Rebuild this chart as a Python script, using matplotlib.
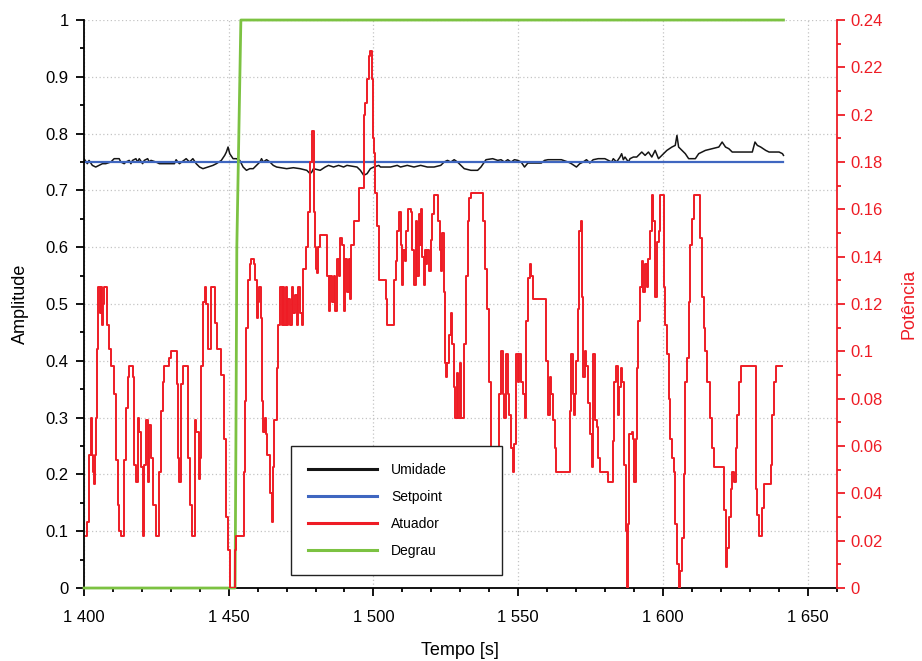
import matplotlib
matplotlib.use("Agg")
import matplotlib.pyplot as plt
from matplotlib.ticker import MultipleLocator, FuncFormatter, FormatStrFormatter

plt.rcParams['font.family'] = ['Liberation Sans', 'DejaVu Sans']

# Umidade (left axis)
umid_t = [1400.0, 1401.16, 1401.74, 1402.89, 1404.05, 1405.21, 1406.37, 1407.52, 1409.26, 1410.42,
          1412.15, 1412.73, 1413.89, 1414.47, 1415.62, 1416.2, 1416.78, 1417.94, 1418.52, 1419.1,
          1420.25, 1420.83, 1421.99, 1422.57, 1423.15, 1424.88, 1426.04, 1431.25, 1431.83, 1432.41,
          1432.99, 1435.3, 1436.46, 1437.62, 1438.77, 1439.93, 1441.09, 1442.82, 1444.56, 1445.72,
          1447.45, 1448.61, 1449.19, 1449.77, 1450.35, 1451.5, 1452.66, 1453.82, 1454.98, 1456.13,
          1457.29, 1458.45, 1459.61, 1460.18, 1460.76, 1461.34, 1461.92, 1463.08, 1464.24, 1465.39,
          1466.55, 1470.02, 1472.34, 1474.65, 1476.97, 1478.12, 1478.7, 1479.28, 1481.6, 1483.33,
          1484.49, 1486.23, 1487.96, 1489.7, 1490.86, 1494.33, 1495.49, 1496.64, 1497.8, 1498.96,
          1500.12, 1501.85, 1502.43, 1505.9, 1508.22, 1509.37, 1511.69, 1514.0, 1516.32, 1518.63,
          1520.95, 1523.26, 1524.42, 1525.58, 1526.74, 1527.89, 1529.05, 1530.21, 1531.37, 1533.68,
          1536.0, 1537.15, 1538.89, 1541.2, 1542.94, 1544.09, 1545.25, 1546.41, 1547.57, 1548.72,
          1549.88, 1551.04, 1552.2, 1553.35, 1557.98, 1559.14, 1560.3, 1564.93, 1567.24, 1568.4,
          1570.14, 1571.29, 1572.45, 1573.61, 1574.77, 1575.92, 1577.66, 1579.97, 1581.13, 1582.29,
          1582.87, 1584.02, 1585.18, 1585.76, 1586.34, 1586.92, 1588.08, 1588.65, 1589.81, 1590.97,
          1592.13, 1592.71, 1593.86, 1595.02, 1596.18, 1597.33, 1598.49, 1600.23, 1601.39, 1603.12,
          1604.28, 1604.86, 1605.44, 1606.59, 1607.75, 1608.91, 1611.22, 1612.38, 1614.7, 1617.01,
          1619.33, 1620.48, 1621.64, 1622.8, 1623.96, 1630.9, 1631.83, 1632.64, 1633.8, 1635.53,
          1636.69, 1640.16, 1641.32, 1641.67]
umid_v = [0.7559, 0.7471, 0.7529, 0.7441, 0.7412, 0.7441, 0.7471, 0.7471, 0.75, 0.7559,
          0.7559, 0.75, 0.7471, 0.75, 0.7529, 0.7471, 0.7529, 0.7559, 0.75, 0.7559,
          0.7471, 0.7529, 0.7559, 0.75, 0.7529, 0.75, 0.7471, 0.7471, 0.7541, 0.75,
          0.7471, 0.7559, 0.75, 0.7559, 0.7471, 0.7412, 0.7383, 0.7412, 0.7441, 0.7471,
          0.7529, 0.7617, 0.7676, 0.7764, 0.7647, 0.7559, 0.7559, 0.7529, 0.7412, 0.7354,
          0.7383, 0.7383, 0.7441, 0.7471, 0.75, 0.7559, 0.75, 0.7541, 0.75, 0.7441,
          0.7412, 0.7383, 0.74, 0.7383, 0.7354, 0.7295, 0.7324, 0.7383, 0.7354, 0.7412,
          0.7441, 0.7412, 0.7441, 0.7412, 0.7441, 0.7412, 0.7354, 0.7266, 0.7295, 0.7383,
          0.7412, 0.7441, 0.7412, 0.7412, 0.7441, 0.7412, 0.7441, 0.7412, 0.7441, 0.7412,
          0.7412, 0.7441, 0.75, 0.7529, 0.75, 0.7541, 0.75, 0.7441, 0.7383, 0.7354,
          0.7354, 0.7412, 0.7541, 0.7559, 0.7529, 0.7541, 0.75, 0.7541, 0.75, 0.7541,
          0.7529, 0.75, 0.7412, 0.7482, 0.7482, 0.7529, 0.7541, 0.7541, 0.75, 0.7471,
          0.7412, 0.7471, 0.75, 0.7541, 0.7482, 0.7541, 0.7559, 0.7559, 0.7529, 0.75,
          0.7559, 0.75, 0.7588, 0.7647, 0.7541, 0.7588, 0.75, 0.7559, 0.7588, 0.7588,
          0.7647, 0.7676, 0.7617, 0.7676, 0.7588, 0.7705, 0.7559, 0.7647, 0.7705, 0.7764,
          0.7793, 0.7969, 0.7764, 0.7705, 0.7647, 0.7559, 0.7559, 0.7647, 0.7705, 0.7734,
          0.7764, 0.7852, 0.7764, 0.7734, 0.7676, 0.7676, 0.7852, 0.7793, 0.7764, 0.7705,
          0.7676, 0.7676, 0.7647, 0.7617]

# Setpoint
setp_t = [1400.0, 1641.67]
setp_v = [0.75, 0.75]

# Degrau
degrau_t = [1400.0, 1452.2, 1452.5, 1452.8, 1454.2, 1641.67]
degrau_v = [0.0, 0.0, 0.27, 0.6, 1.0, 1.0]

# Atuador (right axis, potencia)
atu_t = [1400.58, 1401.16, 1401.74, 1402.31, 1402.89, 1403.24, 1403.47, 1403.82, 1404.28, 1404.63,
         1404.98, 1405.44, 1405.79, 1406.13, 1406.6, 1406.94, 1408.1, 1408.68, 1409.26, 1410.42,
         1411.0, 1411.69, 1412.15, 1412.73, 1413.89, 1414.47, 1415.05, 1415.62, 1416.78, 1417.36,
         1417.94, 1418.52, 1419.1, 1419.68, 1420.25, 1420.83, 1421.41, 1421.99, 1422.57, 1423.15,
         1423.96, 1424.88, 1426.04, 1426.62, 1427.2, 1427.78, 1429.28, 1430.09, 1432.06, 1432.64,
         1432.99, 1433.57, 1434.37, 1435.88, 1436.46, 1437.27, 1438.19, 1438.77, 1439.58, 1440.16,
         1440.51, 1441.09, 1441.67, 1442.25, 1442.82, 1443.98, 1445.14, 1445.95, 1447.45, 1448.38,
         1448.96, 1449.77, 1450.35, 1452.08, 1452.66, 1455.21, 1455.56, 1456.13, 1456.71, 1457.29,
         1457.87, 1458.68, 1459.03, 1459.61, 1460.18, 1460.53, 1460.99, 1461.57, 1461.92, 1462.5,
         1462.85, 1463.31, 1464.24, 1464.81, 1465.16, 1465.62, 1466.55, 1467.13, 1467.71, 1468.29,
         1468.63, 1469.21, 1469.68, 1470.02, 1470.6, 1471.18, 1471.76, 1472.34, 1472.92, 1473.5,
         1474.07, 1474.65, 1475.23, 1475.81, 1476.74, 1477.54, 1478.12, 1478.7, 1479.51, 1479.86,
         1480.21, 1480.67, 1481.02, 1481.6, 1483.91, 1484.49, 1485.07, 1485.65, 1486.23, 1486.81,
         1487.38, 1487.96, 1488.54, 1489.12, 1489.7, 1490.28, 1490.86, 1491.44, 1492.01, 1492.36,
         1493.17, 1494.91, 1496.64, 1497.22, 1497.8, 1498.38, 1498.96, 1499.54, 1499.88, 1500.12,
         1500.7, 1501.27, 1501.85, 1503.59, 1504.17, 1504.74, 1507.06, 1507.64, 1508.22, 1508.8,
         1509.61, 1509.95, 1510.3, 1510.76, 1511.34, 1511.92, 1512.85, 1513.43, 1514.0, 1514.58,
         1515.16, 1515.74, 1516.09, 1516.55, 1516.9, 1517.48, 1517.82, 1518.29, 1518.63, 1519.21,
         1519.79, 1520.37, 1520.95, 1522.34, 1522.92, 1523.26, 1523.84, 1524.42, 1524.77, 1525.23,
         1525.58, 1526.16, 1526.74, 1527.31, 1527.89, 1528.24, 1528.82, 1529.28, 1529.74, 1530.21,
         1531.37, 1531.94, 1532.52, 1533.1, 1533.68, 1537.73, 1538.54, 1539.24, 1540.05, 1540.63,
         1541.2, 1542.36, 1542.94, 1543.52, 1544.1, 1544.68, 1545.25, 1545.83, 1546.41, 1546.99,
         1547.57, 1548.15, 1548.73, 1549.3, 1549.88, 1550.46, 1551.04, 1551.62, 1552.2, 1552.78,
         1553.36, 1553.93, 1554.51, 1555.09, 1559.73, 1560.3, 1560.88, 1561.46, 1562.04, 1562.62,
         1563.2, 1567.83, 1568.41, 1568.99, 1569.33, 1569.56, 1570.14, 1570.72, 1571.07, 1571.65,
         1572.11, 1572.46, 1573.04, 1573.61, 1574.19, 1574.77, 1575.35, 1575.93, 1576.51, 1577.09,
         1577.67, 1578.25, 1581.14, 1582.88, 1583.22, 1583.69, 1584.38, 1584.84, 1585.42, 1586.0,
         1586.69, 1587.16, 1587.62, 1588.08, 1588.43, 1589.24, 1589.82, 1590.17, 1590.63, 1590.98,
         1591.56, 1592.13, 1592.71, 1593.29, 1593.87, 1594.45, 1595.03, 1595.61, 1596.18, 1596.76,
         1597.34, 1597.92, 1598.5, 1599.08, 1600.23, 1600.81, 1601.39, 1601.97, 1602.55, 1603.13,
         1603.71, 1604.29, 1604.86, 1605.44, 1606.02, 1606.6, 1607.18, 1607.76, 1608.34, 1608.92,
         1609.49, 1610.07, 1610.65, 1612.97, 1613.54, 1614.12, 1614.7, 1615.28, 1616.44, 1617.02,
         1617.6, 1621.07, 1621.65, 1622.23, 1622.8, 1623.38, 1623.96, 1624.54, 1625.12, 1625.7,
         1626.28, 1626.86, 1632.06, 1632.64, 1633.22, 1634.38, 1634.96, 1637.27, 1637.85, 1638.43,
         1639.01, 1641.32]
atu_p = [0.022, 0.028, 0.056, 0.072, 0.056, 0.049, 0.044, 0.056, 0.072, 0.101,
         0.127, 0.116, 0.127, 0.111, 0.120, 0.127, 0.111, 0.101, 0.094, 0.082,
         0.054, 0.035, 0.024, 0.022, 0.054, 0.076, 0.089, 0.094, 0.089, 0.052,
         0.045, 0.072, 0.066, 0.051, 0.022, 0.052, 0.071, 0.045, 0.069, 0.055,
         0.035, 0.022, 0.049, 0.075, 0.087, 0.094, 0.097, 0.100, 0.086, 0.055,
         0.045, 0.086, 0.094, 0.055, 0.035, 0.022, 0.071, 0.066, 0.046, 0.055,
         0.094, 0.121, 0.127, 0.120, 0.101, 0.127, 0.112, 0.101, 0.090, 0.063,
         0.030, 0.016, 0.0, 0.016, 0.022, 0.049, 0.079, 0.110, 0.130, 0.137,
         0.139, 0.137, 0.130, 0.114, 0.121, 0.127, 0.114, 0.079, 0.066, 0.072,
         0.065, 0.056, 0.040, 0.028, 0.051, 0.071, 0.093, 0.111, 0.127, 0.111,
         0.127, 0.111, 0.127, 0.111, 0.122, 0.111, 0.127, 0.116, 0.124, 0.111,
         0.127, 0.116, 0.111, 0.135, 0.144, 0.159, 0.180, 0.193, 0.159, 0.144,
         0.135, 0.133, 0.144, 0.149, 0.132, 0.117, 0.132, 0.121, 0.132, 0.117,
         0.139, 0.132, 0.148, 0.145, 0.117, 0.139, 0.125, 0.139, 0.122, 0.145,
         0.155, 0.169, 0.200, 0.205, 0.215, 0.225, 0.227, 0.215, 0.190, 0.184,
         0.167, 0.153, 0.130, 0.130, 0.122, 0.111, 0.130, 0.138, 0.151, 0.159,
         0.145, 0.128, 0.143, 0.138, 0.151, 0.160, 0.159, 0.143, 0.128, 0.155,
         0.132, 0.158, 0.145, 0.160, 0.140, 0.128, 0.143, 0.137, 0.143, 0.134,
         0.147, 0.158, 0.166, 0.155, 0.143, 0.134, 0.150, 0.125, 0.095, 0.089,
         0.095, 0.107, 0.116, 0.103, 0.085, 0.072, 0.091, 0.072, 0.095, 0.072,
         0.103, 0.132, 0.155, 0.165, 0.167, 0.155, 0.135, 0.118, 0.087, 0.059,
         0.049, 0.040, 0.050, 0.082, 0.100, 0.082, 0.072, 0.099, 0.082, 0.073,
         0.059, 0.049, 0.061, 0.099, 0.087, 0.099, 0.087, 0.082, 0.072, 0.113,
         0.131, 0.137, 0.132, 0.122, 0.096, 0.073, 0.089, 0.082, 0.071, 0.059,
         0.049, 0.075, 0.099, 0.082, 0.073, 0.082, 0.096, 0.118, 0.151, 0.155,
         0.123, 0.089, 0.100, 0.094, 0.078, 0.065, 0.051, 0.099, 0.071, 0.068,
         0.055, 0.049, 0.045, 0.062, 0.087, 0.094, 0.073, 0.085, 0.093, 0.087,
         0.052, 0.024, 0.0, 0.027, 0.065, 0.066, 0.063, 0.045, 0.063, 0.093,
         0.113, 0.127, 0.138, 0.125, 0.137, 0.127, 0.139, 0.151, 0.166, 0.155,
         0.123, 0.146, 0.151, 0.166, 0.127, 0.111, 0.099, 0.080, 0.063, 0.055,
         0.049, 0.027, 0.010, 0.0, 0.007, 0.021, 0.048, 0.087, 0.097, 0.121,
         0.145, 0.156, 0.166, 0.148, 0.123, 0.110, 0.100, 0.087, 0.072, 0.059,
         0.051, 0.033, 0.009, 0.017, 0.030, 0.042, 0.049, 0.045, 0.059, 0.073,
         0.087, 0.094, 0.042, 0.031, 0.022, 0.034, 0.044, 0.052, 0.073, 0.087,
         0.094, 0.094]

fig = plt.figure(figsize=(9.22, 6.61), dpi=100)
ax1 = fig.add_axes([0.0911, 0.1104, 0.8162, 0.8593])
ax2 = ax1.twinx()

red = '#ee1c25'
l1, = ax1.plot(umid_t, umid_v, color='#151515', lw=1.1, label='Umidade')
l2, = ax1.plot(setp_t, setp_v, color='#3f66c0', lw=1.6, label='Setpoint')
l4, = ax1.plot(degrau_t, degrau_v, color='#7cc242', lw=2.0, label='Degrau', clip_on=False, zorder=3)
l3, = ax2.plot(atu_t, atu_p, color=red, lw=1.4, drawstyle='steps-post', label='Atuador')

ax1.set_xlim(1400, 1660)
ax1.set_ylim(0, 1)
ax2.set_ylim(0, 0.24)

ax1.xaxis.set_major_locator(MultipleLocator(50))
ax1.xaxis.set_minor_locator(MultipleLocator(10))
ax1.xaxis.set_major_formatter(FuncFormatter(lambda v, p: f"{v:,.0f}".replace(",", " ")))
ax1.yaxis.set_major_locator(MultipleLocator(0.1))
ax1.yaxis.set_minor_locator(MultipleLocator(0.05))
ax1.yaxis.set_major_formatter(FormatStrFormatter('%g'))
ax2.yaxis.set_major_locator(MultipleLocator(0.02))
ax2.yaxis.set_minor_locator(MultipleLocator(0.01))
ax2.yaxis.set_major_formatter(FormatStrFormatter('%g'))

ax1.grid(True, which='major', color='#c4c4c4', linestyle=(0, (1, 2)), lw=0.9)

for s in ['top', 'right']:
    ax1.spines[s].set_visible(False)
for s in ['top', 'left', 'bottom']:
    ax2.spines[s].set_visible(False)
ax2.spines['right'].set_color(red)
ax2.spines['right'].set_linewidth(1.3)
ax1.spines['left'].set_linewidth(1.3)
ax1.spines['bottom'].set_linewidth(1.3)

ax1.tick_params(axis='both', which='major', length=6, width=1.3, labelsize=12, pad=5)
ax1.tick_params(axis='both', which='minor', length=3, width=1.3)
ax1.tick_params(axis='x', which='major', pad=10)
ax2.tick_params(axis='y', which='major', length=6, width=1.3, labelsize=12, pad=4,
                colors=red)
ax2.tick_params(axis='y', which='minor', length=3, width=1.3, colors=red)

ax1.set_xlabel('Tempo [s]', fontsize=13, labelpad=12)
ax1.set_ylabel('Amplitude', fontsize=13, labelpad=12)
ax2.set_ylabel('Potência', fontsize=13, color=red, labelpad=13)

leg = ax2.legend([l1, l2, l3, l4], ['Umidade', 'Setpoint', 'Atuador', 'Degrau'],
                 loc='lower left', bbox_to_anchor=(0.2751, 0.0229, 0.2808, 0.2259),
                 mode='expand', borderaxespad=0, fontsize=10, handlelength=5.0,
                 handletextpad=1.0, labelspacing=0.95, borderpad=1.2, fancybox=False,
                 framealpha=1, edgecolor='#222222')
leg.get_frame().set_linewidth(1.0)
for h in leg.get_lines():
    h.set_linewidth(2.2)

fig.savefig('out.png', dpi=100)
